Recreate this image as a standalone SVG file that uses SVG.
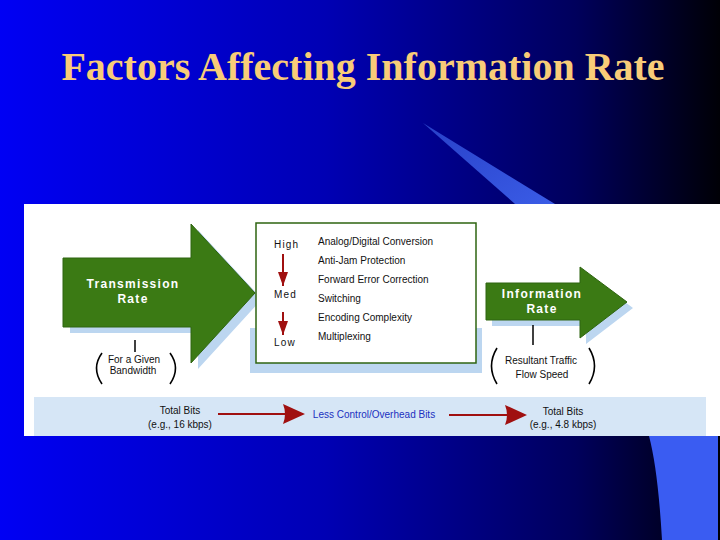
<svg xmlns="http://www.w3.org/2000/svg" width="720" height="540" viewBox="0 0 720 540">
<defs>
<linearGradient id="bg" x1="0" y1="0" x2="1" y2="0">
<stop offset="0" stop-color="#0000f4"/>
<stop offset="0.45" stop-color="#0000b4"/>
<stop offset="0.8" stop-color="#00005c"/>
<stop offset="1" stop-color="#000006"/>
</linearGradient>
<linearGradient id="streak" x1="0" y1="0" x2="1" y2="1">
<stop offset="0" stop-color="#2840c8"/>
<stop offset="1" stop-color="#3a5ce6"/>
</linearGradient>
<marker id="ah" viewBox="0 0 22 20" refX="20" refY="10" markerWidth="22" markerHeight="20" markerUnits="userSpaceOnUse" orient="auto">
<path d="M0,0 L22,10 L0,20 Q4,10 0,0 Z" fill="#a01010"/>
</marker>
<marker id="ahs" viewBox="0 0 10 14" refX="5" refY="14" markerWidth="10" markerHeight="14" markerUnits="userSpaceOnUse" orient="0">
<path d="M0,0 L10,0 L5,14 Z" fill="#a01010"/>
</marker>
</defs>
<style>
.t{font-family:"Liberation Sans",Arial,sans-serif;font-size:10px;fill:#111}
.w{font-family:"Liberation Sans",Arial,sans-serif;font-size:12px;font-weight:bold;fill:#fff;letter-spacing:1.3px}
.g{fill:#3b7a14;stroke:#2e6410;stroke-width:1}
.sh{fill:#bcd6f0}
.lv{font-family:"Liberation Sans",Arial,sans-serif;font-size:10px;fill:#111;letter-spacing:1.2px}
.br{fill:none;stroke:#000;stroke-width:1.6}
.red{stroke:#a01010;stroke-width:2;fill:none}
</style>
<rect width="720" height="540" fill="url(#bg)"/>
<path d="M423,123 L555,204 L515,204 Z" fill="url(#streak)"/>
<path d="M649,436 Q658,470 662,540 L718,540 L718,436 Z" fill="#3a5cf2"/>
<text x="363" y="80" text-anchor="middle" font-family="'Liberation Serif','Times New Roman',serif" font-size="40" font-weight="bold" fill="#f8cc78">Factors Affecting Information Rate</text>
<rect x="24" y="204" width="696" height="232" fill="#fff"/>
<rect x="34" y="397" width="672" height="39" fill="#d6e6f6"/>
<g id="box-shadow"><rect class="sh" x="250" y="328" width="232" height="45"/></g>
<g id="transmission-rate">
<path class="sh" d="M70,264 L198,264 L198,230 L262,299 L198,369 L198,333 L70,333 Z"/>
<path class="g" d="M63,258 L191,258 L191,224 L255,293 L191,363 L191,327 L63,327 Z"/>
<text class="w" text-anchor="middle"><tspan x="133" y="288">Transmission</tspan><tspan x="133" y="303">Rate</tspan></text>
<line x1="135" y1="340" x2="135" y2="352" stroke="#000" stroke-width="1.5"/>
<path class="br" d="M102,353 Q91,368 102,384"/>
<path class="br" d="M170,353 Q181,368 170,384"/>
<text class="t" text-anchor="middle"><tspan x="134" y="363">For a Given</tspan><tspan x="133" y="374">Bandwidth</tspan></text>
</g>
<g id="factors">
<rect x="256" y="223" width="220" height="140" fill="#fff" stroke="#2e6410" stroke-width="1.5"/>
<text class="lv" x="274" y="248">High</text>
<text class="lv" x="274" y="298">Med</text>
<text class="lv" x="274" y="346">Low</text>
<text class="t" x="318"><tspan x="318" y="245">Analog/Digital Conversion</tspan><tspan x="318" y="264">Anti-Jam Protection</tspan><tspan x="318" y="283">Forward Error Correction</tspan><tspan x="318" y="302">Switching</tspan><tspan x="318" y="321">Encoding Complexity</tspan><tspan x="318" y="340">Multiplexing</tspan></text>
</g>
<g id="information-rate">
<path class="sh" d="M492,289 L586,289 L586,273 L633,308 L586,344 L586,326 L492,326 Z"/>
<path class="g" d="M486,283 L580,283 L580,267 L627,302 L580,338 L580,320 L486,320 Z"/>
<text class="w" text-anchor="middle" letter-spacing="1"><tspan x="542" y="298">Information</tspan><tspan x="542" y="313">Rate</tspan></text>
<line x1="533" y1="325" x2="533" y2="345" stroke="#000" stroke-width="1.5"/>
<path class="br" d="M497,348 Q486,366 497,384"/>
<path class="br" d="M589,348 Q600,366 589,384"/>
<text class="t" text-anchor="middle"><tspan x="541" y="364">Resultant Traffic</tspan><tspan x="542" y="378">Flow Speed</tspan></text>
</g>
<g id="total-bits-in">
<text class="t" text-anchor="middle"><tspan x="180" y="414">Total Bits</tspan><tspan x="180" y="428">(e.g., 16 kbps)</tspan></text>
</g>
<g id="less-control">
<text class="t" x="374" y="418" text-anchor="middle" style="fill:#2030c0">Less Control/Overhead Bits</text>
</g>
<g id="total-bits-out">
<text class="t" text-anchor="middle"><tspan x="563" y="415">Total Bits</tspan><tspan x="563" y="428">(e.g., 4.8 kbps)</tspan></text>
</g>
<g id="connectors">
<line class="red" x1="283" y1="254" x2="283" y2="286" marker-end="url(#ahs)"/>
<line class="red" x1="283" y1="312" x2="283" y2="335" marker-end="url(#ahs)"/>
<line class="red" x1="218" y1="414" x2="303" y2="414" marker-end="url(#ah)"/>
<line class="red" x1="449" y1="415" x2="525" y2="415" marker-end="url(#ah)"/>
</g>
</svg>
